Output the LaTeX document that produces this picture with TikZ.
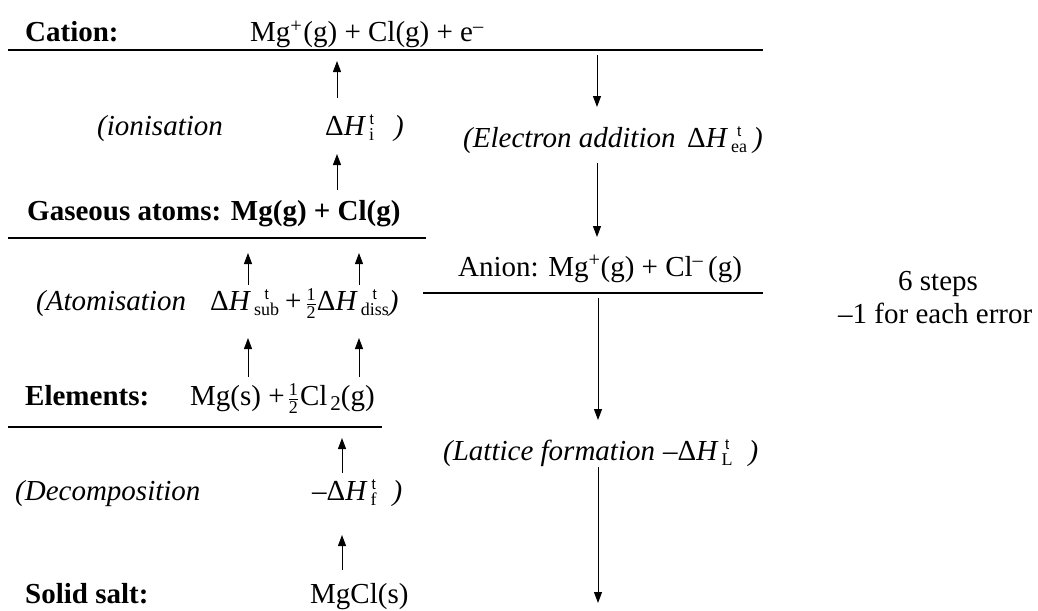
\documentclass[tikz,border=0pt]{standalone}
\usepackage{fontspec}
\setmainfont{Liberation Serif}
\newfontfamily\sansf{Liberation Sans}
\usetikzlibrary{arrows.meta}
\newsavebox\subbox
\newcommand\dH[1]{Δ\textit{H}\kern3pt\sbox\subbox{\fontsize{18}{18}\selectfont #1}\makebox[\wd\subbox][c]{\raisebox{11pt}{\fontsize{15}{15}\selectfont\sansf t}}\kern-\wd\subbox\raisebox{-5pt}{\usebox\subbox}}
\newcommand\halff{\ensuremath{\frac{\mbox{\fontsize{18}{18}\selectfont 1}}{\mbox{\fontsize{18}{18}\selectfont 2}}}}
\tikzset{
  txt/.style={inner sep=0pt, anchor=base west, font=\fontsize{29}{34}\selectfont},
  lvl/.style={line width=2.2pt},
  arr/.style={line width=1pt, -{Triangle[length=11pt,width=8pt]}}
}
\begin{document}
\begin{tikzpicture}[x=1pt,y=-1pt]
\useasboundingbox (0,0) rectangle (1038,610);
% Cation level
\node[txt] (cat) at (25,42) {\textbf{Cation:}};
\node[txt] (catf) at (250,42) {Mg\textsuperscript{+}\kern1pt(g) + Cl(g) + e\textsuperscript{–}};
\coordinate (c1) at (8,50); \coordinate (c2) at (763,50);
\draw[lvl] (c1) -- (c2);
% ionisation
\coordinate (i1) at (337,98); \coordinate (i1t) at (337,61);
\coordinate (i2) at (337,190); \coordinate (i2t) at (337,154);
\draw[arr] (i1) -- (i1t);
\draw[arr] (i2) -- (i2t);
\node[txt] (ion) at (97,135) {\textit{(ionisation}};
\node[txt] (ionH) at (325,135) {\dH{i}\hspace{20pt}\textit{)}};
% electron addition
\coordinate (e1) at (597,55); \coordinate (e1t) at (597,107);
\coordinate (e2) at (597,163); \coordinate (e2t) at (597,237);
\draw[arr] (e1) -- (e1t);
\draw[arr] (e2) -- (e2t);
\node[txt] (ea) at (463,147) {\textit{(Electron addition}};
\node[txt] (eaH) at (687,147) {\dH{ea}\hspace{6pt}\textit{)}};
% gaseous atoms
\node[txt] (gas) at (27,220) {\textbf{Gaseous atoms: Mg(g) + Cl(g)}};
\coordinate (g1) at (8,238); \coordinate (g2) at (426,238);
\draw[lvl] (g1) -- (g2);
% atomisation
\coordinate (a1) at (248,285); \coordinate (a1t) at (248,253);
\coordinate (a2) at (359,285); \coordinate (a2t) at (359,253);
\coordinate (a3) at (248,377); \coordinate (a3t) at (248,338);
\coordinate (a4) at (359,377); \coordinate (a4t) at (359,338);
\draw[arr] (a1) -- (a1t);
\draw[arr] (a2) -- (a2t);
\draw[arr] (a3) -- (a3t);
\draw[arr] (a4) -- (a4t);
\node[txt] (at) at (36,310) {\textit{(Atomisation}};
\node[txt] (atH) at (210,310) {\dH{sub}\kern6pt+\kern4pt\halff\dH{diss}\textit{)}};
% anion
\node[txt] (an) at (458,276) {Anion: Mg\textsuperscript{+}(g) + Cl\textsuperscript{–}\,(g)};
\coordinate (n1) at (423,293); \coordinate (n2) at (763,293);
\draw[lvl] (n1) -- (n2);
% marks
\node[txt] (m1) at (898,290) {6 steps};
\node[txt] (m2) at (838,323) {–1 for each error};
% lattice
\coordinate (l1) at (598,298); \coordinate (l1t) at (598,420);
\coordinate (l2) at (598,467); \coordinate (l2t) at (598,603);
\draw[arr] (l1) -- (l1t);
\draw[arr] (l2) -- (l2t);
\node[txt] (lat) at (443,460) {\textit{(Lattice formation}};
\node[txt] (latH) at (663,460) {–\dH{L}\hspace{16pt}\textit{)}};
% elements
\node[txt] (el) at (25,405) {\textbf{Elements:}};
\node[txt] (elf) at (190,405) {Mg(s) +\kern3pt\halff\kern1pt Cl\kern3pt\raisebox{-5pt}{\fontsize{21}{21}\selectfont 2}(g)};
\coordinate (el1) at (8,427); \coordinate (el2) at (382,427);
\draw[lvl] (el1) -- (el2);
% decomposition
\coordinate (d1) at (342,473); \coordinate (d1t) at (342,438);
\coordinate (d2) at (342,570); \coordinate (d2t) at (342,535);
\draw[arr] (d1) -- (d1t);
\draw[arr] (d2) -- (d2t);
\node[txt] (dec) at (15,500) {\textit{(Decomposition}};
\node[txt] (decH) at (312,500) {–\dH{f}\hspace{16pt}\textit{)}};
% solid salt
\node[txt] (ss) at (25,603) {\textbf{Solid salt:}};
\node[txt] (ssf) at (310,603) {MgCl(s)};
\end{tikzpicture}
\end{document}
